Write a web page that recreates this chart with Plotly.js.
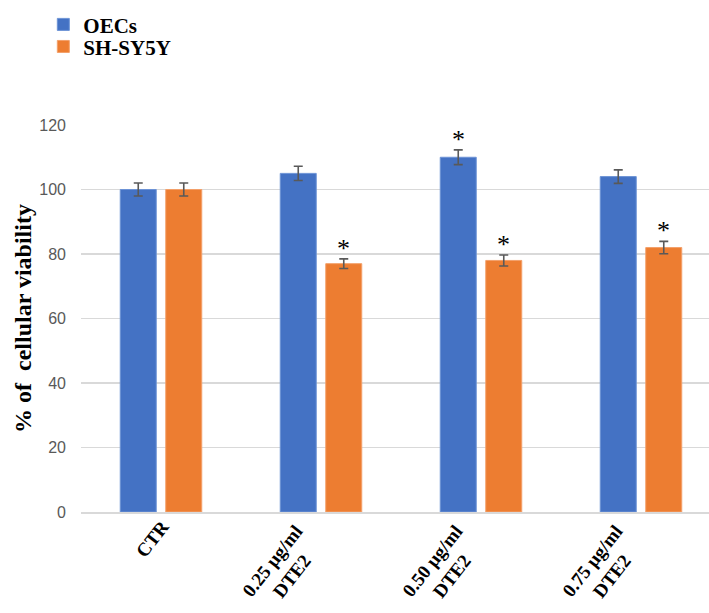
<!DOCTYPE html>
<html>
<head>
<meta charset="utf-8">
<script src="https://cdn.plot.ly/plotly-3.0.1.min.js"></script>
<style>
  html, body { margin: 0; padding: 0; background: #fff; }
  #chart { width: 709px; height: 613px; }
</style>
</head>
<body>
<div id="chart"></div>
<script>
// Treatment groups on the x axis
const categories = ['CTR', '0.25 μg/ml<br>DTE2', '0.50 μg/ml<br>DTE2', '0.75 μg/ml<br>DTE2'];

// Cellular viability (% of control) and standard errors
const oecsValues = [100, 105, 110, 104];
const oecsErrors = [2, 2.2, 2.3, 2.1];
const shValues = [100, 77, 78, 82];
const shErrors = [2, 1.5, 1.7, 1.9];

// Significance marks per series (true = asterisk drawn above the bar)
const oecsSignif = [false, false, true, false];
const shSignif = [false, true, true, true];

const serif = 'Liberation Serif, serif';
const errStyle = { type: 'data', visible: true, color: '#595959', thickness: 1.6, width: 4.5 };

const traces = [
  {
    type: 'bar', name: 'OECs', x: categories, y: oecsValues, legend: 'legend',
    marker: { color: '#4472c4', line: { color: '#6d93d6', width: 1 } },
    error_y: Object.assign({ array: oecsErrors }, errStyle)
  },
  {
    type: 'bar', name: 'SH-SY5Y', x: categories, y: shValues, legend: 'legend2',
    marker: { color: '#ed7d31', line: { color: '#f3a06a', width: 1 } },
    error_y: Object.assign({ array: shErrors }, errStyle)
  }
];

const annotations = [];

// Asterisks above the error bars of significant groups
function addStars(values, errors, flags, shift) {
  flags.forEach((f, i) => {
    if (!f) return;
    annotations.push({
      x: categories[i], y: values[i] + errors[i], xref: 'x', yref: 'y',
      text: '*', showarrow: false, xshift: shift, yshift: -6,
      xanchor: 'center', yanchor: 'bottom',
      font: { family: serif, size: 26, color: '#000' }
    });
  });
}
addStars(oecsValues, oecsErrors, oecsSignif, -22.75);
addStars(shValues, shErrors, shSignif, 22.75);

// Slanted category labels with centred lines, hung from each category position
categories.forEach((c, i) => {
  annotations.push({
    x: c, y: 0, xref: 'x', yref: 'y', text: c, showarrow: false,
    textangle: -52, align: 'center', xanchor: 'right', yanchor: 'top',
    xshift: i === 0 ? 14 : 9, yshift: i === 0 ? -2 : -6,
    font: { family: serif, size: 19, color: '#000', weight: 'bold' }
  });
});

const legendFont = { family: serif, size: 21, color: '#000', weight: 'bold' };

const layout = {
  width: 709, height: 613,
  margin: { l: 81, r: 0, t: 124.5, b: 101 },
  paper_bgcolor: '#fff', plot_bgcolor: '#fff',
  barmode: 'group', bargap: 0.431, bargroupgap: 0.209,
  showlegend: true,
  legend: {
    x: -0.06, y: 1.312, xanchor: 'left', yanchor: 'top',
    font: legendFont, bgcolor: 'rgba(0,0,0,0)'
  },
  legend2: {
    x: -0.06, y: 1.255, xanchor: 'left', yanchor: 'top',
    font: legendFont, bgcolor: 'rgba(0,0,0,0)'
  },
  xaxis: {
    type: 'category', range: [-0.5, 3.425],
    showgrid: false, showline: true, linecolor: '#d9d9d9', linewidth: 1.5,
    ticks: '', showticklabels: false
  },
  yaxis: {
    range: [0, 120], dtick: 20, tick0: 0,
    showgrid: true, gridcolor: '#d9d9d9', gridwidth: 1.5,
    zeroline: false, showline: false, ticks: '',
    ticklabelstandoff: 14,
    tickfont: { family: 'Liberation Sans, sans-serif', size: 16, color: '#595959' },
    title: {
      text: '% of  cellular viability', standoff: 0,
      font: { family: serif, size: 24, color: '#000', weight: 'bold' }
    }
  },
  annotations: annotations
};

Plotly.newPlot('chart', traces, layout, { displayModeBar: false, staticPlot: true });
</script>
</body>
</html>
